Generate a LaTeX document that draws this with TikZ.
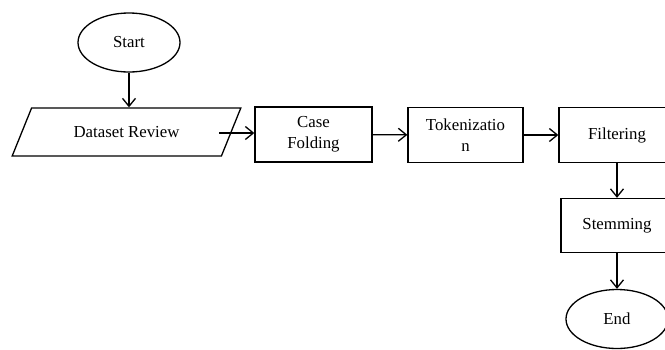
\documentclass[tikz,border=0pt]{standalone}
\usepackage{fontspec}
\setmainfont{Liberation Serif}
\usetikzlibrary{arrows.meta,shapes.geometric}
\begin{document}
\begin{tikzpicture}[x=1pt,y=-1pt,
  every node/.style={font=\fontsize{16.8}{21}\selectfont, align=center, inner sep=0pt},
  procbox/.style={draw, line width=1.3pt, rectangle},
  term/.style={draw, line width=1.3pt, ellipse},
  conn/.style={draw, line width=1.3pt, -{Straight Barb[length=8pt,width=13pt,line width=1.3pt]}}]
\useasboundingbox (0,0) rectangle (665,349);
\node[term, minimum width=102pt, minimum height=59pt] (start) at (129,42.5) {Start};
\node[draw, line width=1.3pt, trapezium, trapezium left angle=46.2, trapezium right angle=133.8,
  minimum width=229pt, minimum height=48pt, trapezium stretches=true] (data) at (126.5,132) {Dataset Review};
\node[procbox, minimum width=117pt, minimum height=55pt] (case) at (313.5,134.5) {Case\\Folding};
\node[procbox, minimum width=115pt, minimum height=55pt] (tok) at (465.5,135) {Tokenizatio\\n};
\node[procbox, minimum width=116pt, minimum height=55pt] (filt) at (617,135) {Filtering};
\node[procbox, minimum width=112pt, minimum height=54pt] (stem) at (617,225.5) {Stemming};
\node[term, minimum width=102pt, minimum height=59pt] (end) at (617,319) {End};
\draw[conn] (start) -- (start |- data.north);
\coordinate (d1) at (219,133);
\draw[conn] (d1) -- (case.west |- d1);
\draw[conn] (case) -- (tok);
\draw[conn] (tok) -- (filt);
\draw[conn] (filt) -- (stem);
\draw[conn] (stem) -- (end);
\end{tikzpicture}
\end{document}
